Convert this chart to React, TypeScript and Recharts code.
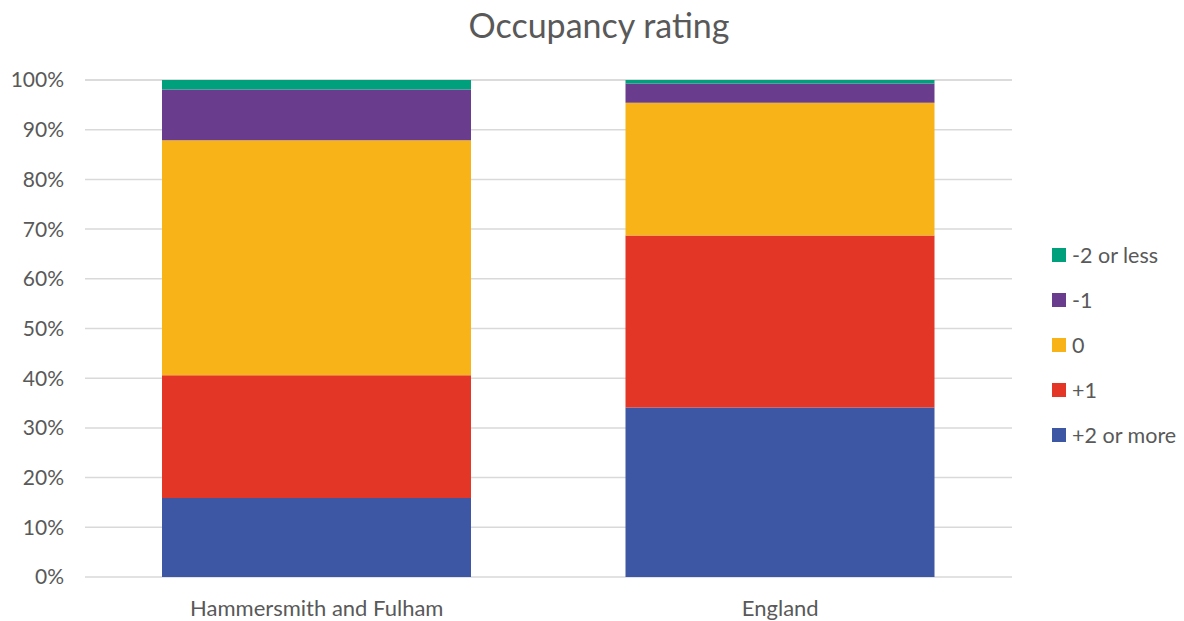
import React from "react";
import { BarChart, Bar, XAxis, YAxis, CartesianGrid, Legend } from "recharts";

const categories = ["Hammersmith and Fulham", "England"];
const plus2OrMore = [15.9, 34.1];
const plus1 = [24.7, 34.6];
const zero = [47.3, 26.7];
const minus1 = [10.2, 3.9];
const minus2OrLess = [1.9, 0.7];
const yTicks = [0, 10, 20, 30, 40, 50, 60, 70, 80, 90, 100];

const series = [
  { key: "p2", name: "+2 or more", values: plus2OrMore, color: "#3D57A5" },
  { key: "p1", name: "+1", values: plus1, color: "#E43627" },
  { key: "z", name: "0", values: zero, color: "#F8B318" },
  { key: "m1", name: "-1", values: minus1, color: "#6A3C8E" },
  { key: "m2", name: "-2 or less", values: minus2OrLess, color: "#00A07D" },
];

const data = categories.map((c, i) => {
  const row: any = { name: c };
  series.forEach((s) => (row[s.key] = s.values[i]));
  return row;
});

const FONT = "Lato, 'Open Sans', sans-serif";

const renderLegend = () => (
  <div style={{ fontFamily: FONT }}>
    {[...series].reverse().map((s) => (
      <div key={s.key} style={{ display: "flex", alignItems: "center", height: 45 }}>
        <span style={{ width: 14, height: 14, background: s.color, display: "inline-block", marginRight: 6 }} />
        <span style={{ fontSize: 21.5, color: "#595959" }}>{s.name}</span>
      </div>
    ))}
  </div>
);

export default function App() {
  return (
    <div style={{ position: "absolute", left: 0, top: 0, width: 1184, height: 621, background: "#fff" }}>
      <div
        style={{
          position: "absolute",
          top: 4,
          left: 0,
          width: 1198,
          textAlign: "center",
          fontFamily: FONT,
          fontSize: 34,
          color: "#595959",
        }}
      >
        Occupancy rating
      </div>
      <BarChart
        width={1184}
        height={621}
        data={data}
        margin={{ top: 80, right: 12, bottom: 0, left: 0 }}
      >
        <CartesianGrid vertical={false} stroke="#D9D9D9" strokeWidth={1.5} />
        <XAxis
          dataKey="name"
          height={44}
          axisLine={false}
          tickLine={false}
          tick={{ fill: "#595959", fontSize: 22, fontFamily: FONT }}
          tickMargin={17}
        />
        <YAxis
          width={85}
          domain={[0, 100]}
          ticks={yTicks}
          axisLine={false}
          tickLine={false}
          tickFormatter={(v: number) => `${v}%`}
          tick={{ fill: "#595959", fontSize: 21, fontFamily: FONT }}
          tickMargin={15}
        />
        <Legend
          content={renderLegend}
          layout="vertical"
          align="right"
          verticalAlign="top"
          wrapperStyle={{ left: 1052, top: 232, width: 160 }}
        />
        {series.map((s) => (
          <Bar key={s.key} dataKey={s.key} name={s.name} stackId="a" fill={s.color} barSize={309} isAnimationActive={false} />
        ))}
      </BarChart>
    </div>
  );
}
